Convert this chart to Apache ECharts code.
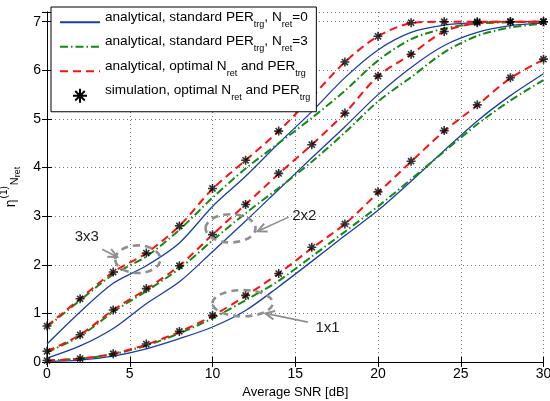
<!DOCTYPE html>
<html>
<head>
<meta charset="utf-8">
<script src="https://cdn.jsdelivr.net/npm/echarts@6/dist/echarts.min.js"></script>
<style>
html,body{margin:0;padding:0;background:#fff;}
#chart{width:550px;height:401px;}
</style>
</head>
<body>
<div id="chart"></div>
<script>
// average SNR [dB]
var snr = [0, 2, 4, 6, 8, 10, 12, 14, 16, 18, 20, 22, 24, 26, 28, 30];

// 1x1
var std0_1 = [0.01, 0.04, 0.12, 0.27, 0.48, 0.72, 1.06, 1.55, 2.07, 2.6, 3.12, 3.72, 4.35, 4.96, 5.48, 5.93];
var std3_1 = [0.03, 0.07, 0.16, 0.34, 0.59, 0.9, 1.27, 1.67, 2.17, 2.68, 3.2, 3.76, 4.33, 4.89, 5.38, 5.8];
var opt_1  = [0.03, 0.07, 0.17, 0.36, 0.62, 0.95, 1.36, 1.82, 2.34, 2.84, 3.48, 4.12, 4.75, 5.28, 5.84, 6.22];
var sim_1  = [0.03, 0.07, 0.17, 0.37, 0.63, 0.96, 1.37, 1.82, 2.36, 2.84, 3.5, 4.13, 4.76, 5.29, 5.85, 6.23];
// 2x2
var std0_2 = [0.08, 0.33, 0.69, 1.2, 1.65, 2.27, 2.9, 3.55, 4.2, 4.84, 5.5, 6.06, 6.51, 6.78, 6.92, 6.97];
var std3_2 = [0.2, 0.53, 1.03, 1.46, 1.92, 2.5, 3.06, 3.58, 4.12, 4.72, 5.36, 5.86, 6.37, 6.71, 6.88, 6.96];
var opt_2  = [0.22, 0.56, 1.07, 1.5, 1.98, 2.62, 3.24, 3.87, 4.47, 5.12, 5.88, 6.33, 6.8, 6.97, 7, 7];
var sim_2  = [0.22, 0.56, 1.07, 1.51, 1.98, 2.62, 3.24, 3.88, 4.47, 5.12, 5.88, 6.33, 6.8, 6.98, 7, 7];
// 3x3
var std0_3 = [0.37, 1.03, 1.62, 1.98, 2.45, 3.2, 3.82, 4.5, 5.15, 5.85, 6.42, 6.78, 6.93, 6.98, 7, 7];
var std3_3 = [0.72, 1.27, 1.8, 2.17, 2.72, 3.38, 3.98, 4.5, 5.02, 5.58, 6.2, 6.64, 6.86, 6.96, 6.99, 7];
var opt_3  = [0.74, 1.3, 1.85, 2.24, 2.8, 3.56, 4.15, 4.75, 5.45, 6.17, 6.7, 6.97, 7, 7, 7, 7];
var sim_3  = [0.74, 1.3, 1.85, 2.24, 2.8, 3.57, 4.15, 4.75, 5.45, 6.17, 6.7, 6.98, 7, 7, 7, 7];

var xTicks = [0, 30, 5];
var yTicks = [0, 7.2, 1];

// annotations: ellipse box [x1, x2, y1, y2], label [x, y], arrow [x0, y0, x1, y1]
var annotations = [
    {text: '3x3', box: [4.12, 6.85, 1.83, 2.40], label: [2.4, 2.57], arrow: [3.33, 2.32, 4.24, 2.16]},
    {text: '2x2', box: [9.58, 12.6, 2.46, 3.04], label: [15.55, 3.0], arrow: [14.6, 2.98, 12.73, 2.69]},
    {text: '1x1', box: [10.0, 13.64, 0.94, 1.48], label: [16.95, 0.70], arrow: [15.76, 0.82, 13.2, 1.0]}
];

var legendText = {
    std0: '{t|analytical, standard PER}{s|trg}{t|, N}{s|ret}{t|=0}',
    std3: '{t|analytical, standard PER}{s|trg}{t|, N}{s|ret}{t|=3}',
    opt: '{t|analytical, optimal N}{s|ret}{t| and PER}{s|trg}',
    sim: '{t|simulation, optimal N}{s|ret}{t| and PER}{s|trg}'
};

var FONT = '"Liberation Sans", Arial, sans-serif';
var BLUE = '#1a3da8', GREEN = '#138a13', RED = '#ff1010';

function pts(arr) {
    return snr.map(function (x, i) { return [x, arr[i]]; });
}
function line(name, arr, color, type, width, z) {
    return {
        name: name, type: 'line', data: pts(arr), smooth: 0.3,
        symbol: 'none', showSymbol: false, z: z, silent: true,
        lineStyle: {color: color, width: width, type: type},
        itemStyle: {color: color}
    };
}
function stars(arr) {
    return {
        name: 'sim', type: 'scatter', data: pts(arr), z: 10, silent: true,
        symbol: 'path://M5,0L5,10M0,5L10,5M1.6,1.6L8.4,8.4M1.6,8.4L8.4,1.6',
        symbolSize: 9,
        itemStyle: {color: 'rgba(0,0,0,0)', borderColor: '#000', borderWidth: 1.6}
    };
}

var dashDot = [8, 3, 1.5, 3];
var dashed = [8, 5];

var series = [
    line('std0', std0_1, BLUE, 'solid', 1.3, 2),
    line('std0', std0_2, BLUE, 'solid', 1.3, 2),
    line('std0', std0_3, BLUE, 'solid', 1.3, 2),
    line('std3', std3_1, GREEN, dashDot, 2, 3),
    line('std3', std3_2, GREEN, dashDot, 2, 3),
    line('std3', std3_3, GREEN, dashDot, 2, 3),
    line('opt', opt_1, RED, dashed, 2, 4),
    line('opt', opt_2, RED, dashed, 2, 4),
    line('opt', opt_3, RED, dashed, 2, 4),
    stars(sim_1),
    stars(sim_2),
    stars(sim_3)
];

var dom = document.getElementById('chart');
var myChart = echarts.init(dom, null, {renderer: 'canvas'});

var gridLine = {show: true, lineStyle: {color: '#777', type: [1, 3], width: 1}};

myChart.setOption({
    animation: false,
    backgroundColor: '#fff',
    grid: {left: 47, right: 6.5, top: 12, bottom: 39, containLabel: false, outerBoundsMode: 'none'},
    legend: {
        data: ['std0', 'std3', 'opt', {name: 'sim', itemStyle: {opacity: 1}}],
        orient: 'vertical',
        left: 51, top: 7,
        itemWidth: 40, itemHeight: 14, itemGap: 5.5,
        padding: [3, 6, 8, 8],
        backgroundColor: '#fff',
        borderColor: '#000', borderWidth: 1,
        selectedMode: false,
        z: 20,
        itemStyle: {opacity: 0},
        formatter: function (name) { return legendText[name]; },
        textStyle: {
            color: '#000',
            rich: {
                t: {fontSize: 13.6, fontFamily: FONT, color: '#000', lineHeight: 24.5, verticalAlign: 'top', padding: [0, 0, 0, 0]},
                s: {fontSize: 9, fontFamily: FONT, color: '#000', lineHeight: 24.5, verticalAlign: 'top', padding: [10, 0, 0, 0]}
            }
        }
    },
    xAxis: [{
        type: 'value', min: xTicks[0], max: xTicks[1], interval: xTicks[2],
        name: 'Average SNR [dB]', nameLocation: 'middle', nameGap: 24,
        nameTextStyle: {color: '#000', fontSize: 13, fontFamily: FONT},
        axisLine: {lineStyle: {color: '#000', width: 1}},
        axisTick: {inside: true, length: 5, lineStyle: {color: '#000'}},
        axisLabel: {color: '#000', fontSize: 14, fontFamily: FONT, margin: 5},
        splitLine: gridLine
    }, {
        type: 'value', position: 'top', min: xTicks[0], max: xTicks[1], interval: xTicks[2],
        axisLine: {show: true, lineStyle: {color: '#000', width: 1}},
        axisTick: {inside: true, length: 5, lineStyle: {color: '#000'}},
        axisLabel: {show: false}, splitLine: {show: false}
    }],
    yAxis: [{
        type: 'value', min: yTicks[0], max: yTicks[1], interval: yTicks[2],
        name: '{e|η}{p|(1)}{n|N}{r|ret}', nameLocation: 'middle', nameGap: 18, nameRotate: 90,
        nameTextStyle: {
            color: '#000',
            rich: {
                e: {fontSize: 14, fontFamily: FONT, color: '#000', verticalAlign: 'top', lineHeight: 26, padding: [5, 0, 0, 0]},
                p: {fontSize: 10, fontFamily: FONT, color: '#000', verticalAlign: 'top', lineHeight: 26, padding: [0, 1, 0, 1]},
                n: {fontSize: 11, fontFamily: FONT, color: '#000', verticalAlign: 'top', lineHeight: 26, padding: [10, 0, 0, 0]},
                r: {fontSize: 9, fontFamily: FONT, color: '#000', verticalAlign: 'top', lineHeight: 26, padding: [14, 0, 0, 0]}
            }
        },
        axisLine: {show: true, lineStyle: {color: '#000', width: 1}},
        axisTick: {inside: true, length: 5, lineStyle: {color: '#000'}},
        axisLabel: {
            color: '#000', fontSize: 14, fontFamily: FONT, margin: 6,
            formatter: function (v) { return Math.abs(v - Math.round(v)) < 1e-6 ? String(Math.round(v)) : ''; }
        },
        splitLine: gridLine
    }, {
        type: 'value', position: 'right', min: yTicks[0], max: yTicks[1], interval: yTicks[2],
        axisLine: {show: true, lineStyle: {color: '#000', width: 1}},
        axisTick: {inside: true, length: 5, lineStyle: {color: '#000'}},
        axisLabel: {show: false}, splitLine: {show: false}
    }],
    series: series
});

// gray ellipses, arrows and labels placed in data coordinates
function toPx(x, y) {
    return myChart.convertToPixel({xAxisIndex: 0, yAxisIndex: 0}, [x, y]);
}
var gfx = [];
annotations.forEach(function (a) {
    var p1 = toPx(a.box[0], a.box[2]);
    var p2 = toPx(a.box[1], a.box[3]);
    gfx.push({
        type: 'ellipse', z: 50, silent: true,
        shape: {cx: (p1[0] + p2[0]) / 2, cy: (p1[1] + p2[1]) / 2,
                rx: Math.abs(p2[0] - p1[0]) / 2, ry: Math.abs(p2[1] - p1[1]) / 2},
        style: {stroke: '#8f8f8f', lineWidth: 2.6, fill: null, lineDash: [7, 5]}
    });
    var a0 = toPx(a.arrow[0], a.arrow[1]);
    var a1 = toPx(a.arrow[2], a.arrow[3]);
    var ang = Math.atan2(a1[1] - a0[1], a1[0] - a0[0]);
    var hl = 10, hw = 0.45;
    gfx.push({
        type: 'polyline', z: 50, silent: true,
        shape: {points: [a0, a1]},
        style: {stroke: '#8f8f8f', lineWidth: 1.6, fill: null}
    });
    gfx.push({
        type: 'polyline', z: 50, silent: true,
        shape: {points: [
            [a1[0] - hl * Math.cos(ang - hw), a1[1] - hl * Math.sin(ang - hw)],
            a1,
            [a1[0] - hl * Math.cos(ang + hw), a1[1] - hl * Math.sin(ang + hw)]
        ]},
        style: {stroke: '#8f8f8f', lineWidth: 2, fill: null}
    });
    var lp = toPx(a.label[0], a.label[1]);
    gfx.push({
        type: 'text', z: 51, silent: true, x: lp[0], y: lp[1],
        style: {text: a.text, fill: '#222', font: '15px ' + FONT, align: 'center', verticalAlign: 'middle'}
    });
});
myChart.setOption({graphic: gfx});

window.addEventListener('resize', function () {
    myChart.resize();
});
</script>
</body>
</html>
